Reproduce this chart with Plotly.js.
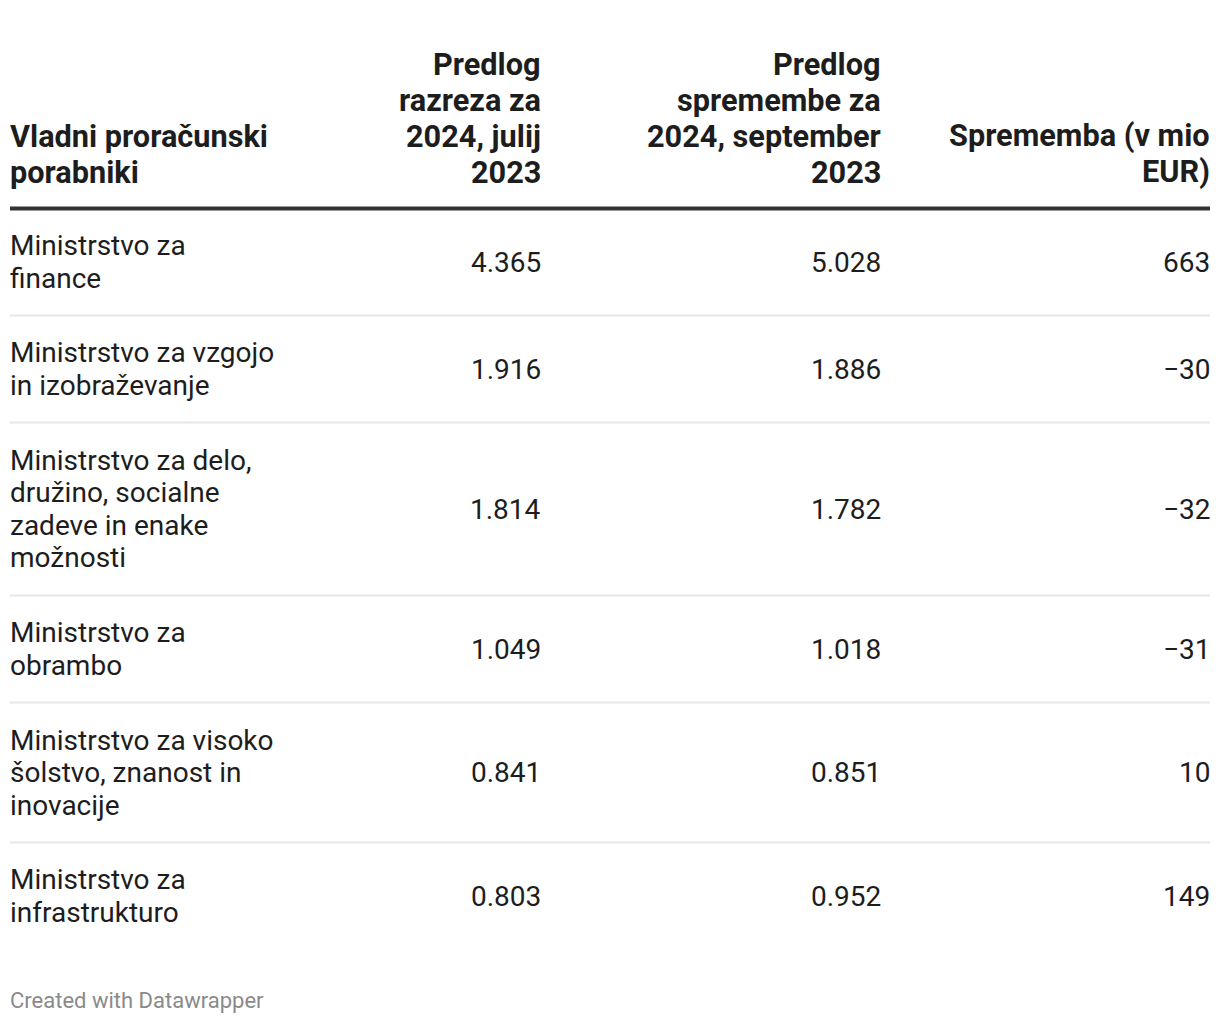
<!DOCTYPE html>
<html>
<head>
<meta charset="utf-8">
<script src="https://cdn.plot.ly/plotly-3.0.1.min.js"></script>
<style>html,body{margin:0;padding:0;background:#fff;}#chart{width:1220px;height:1024px;}</style>
</head>
<body>
<div id="chart"></div>
<script>
// ---- data ----
const headers = [
  "Vladni proračunski<br>porabniki",
  "Predlog<br>razreza za<br>2024, julij<br>2023",
  "Predlog<br>spremembe za<br>2024, september<br>2023",
  "Sprememba (v mio<br>EUR)"
];
const ministries = [
  "Ministrstvo za<br>finance",
  "Ministrstvo za vzgojo<br>in izobraževanje",
  "Ministrstvo za delo,<br>družino, socialne<br>zadeve in enake<br>možnosti",
  "Ministrstvo za<br>obrambo",
  "Ministrstvo za visoko<br>šolstvo, znanost in<br>inovacije",
  "Ministrstvo za<br>infrastrukturo"
];
const julij2023 = [4.365, 1.916, 1.814, 1.049, 0.841, 0.803];
const september2023 = [5.028, 1.886, 1.782, 1.018, 0.851, 0.952];
const sprememba = [663, -30, -32, -31, 10, 149];
const footer = "Created with Datawrapper";

// ---- layout constants (style) ----
const W = 1220, H = 1024;
const lineLeft = 10, lineRight = 1210;
const textLeft = 9;
const colRight = [542, 882, 1211];
const headerLastLineY = 172;
const headerLineSpacing = 36;
const headerLineY = 208.5;
const bodyLineSpacing = 32.5;
const rowLineH = 33, rowPad = 41;
const bodyFont = {family: "Roboto", size: 28, color: "#1d1d1d"};
const headFont = {family: "Roboto", size: 30.7, color: "#1d1d1d", weight: 700};

const fmt3 = v => v.toFixed(3);
const fmtInt = v => (v < 0 ? "\u2212" + Math.abs(v) : String(v));

const annotations = [];
const shapes = [];

function addLines(text, x, cy, spacing, font, isLeft, bold) {
  const lines = text.split("<br>");
  const n = lines.length;
  lines.forEach((ln, k) => {
    annotations.push({
      xref: "x", yref: "y",
      x: x, y: cy + (k - (n - 1) / 2) * spacing,
      xanchor: isLeft ? "left" : "right",
      yanchor: "middle",
      align: isLeft ? "left" : "right",
      text: bold ? "<b>" + ln + "</b>" : ln,
      showarrow: false, font: font, borderpad: 0
    });
  });
}

// header (bottom-aligned)
headers.forEach((h, i) => {
  const n = h.split("<br>").length;
  const cy = headerLastLineY - (n - 1) / 2 * headerLineSpacing;
  addLines(h, i === 0 ? textLeft : colRight[i - 1], cy, headerLineSpacing, headFont, i === 0, true);
});
shapes.push({type: "line", xref: "x", yref: "y", x0: lineLeft, x1: lineRight, y0: headerLineY, y1: headerLineY,
  line: {color: "#333333", width: 4}});

// rows
let y = headerLineY;
ministries.forEach((m, r) => {
  const n = m.split("<br>").length;
  const h = n * rowLineH + rowPad;
  const cy = y + h / 2;
  const cells = [m, fmt3(julij2023[r]), fmt3(september2023[r]), fmtInt(sprememba[r])];
  cells.forEach((c, i) => {
    addLines(c, i === 0 ? textLeft : colRight[i - 1], cy, bodyLineSpacing, bodyFont, i === 0, false);
  });
  y += h;
  if (r < ministries.length - 1) {
    shapes.push({type: "line", xref: "x", yref: "y", x0: lineLeft, x1: lineRight, y0: y, y1: y,
      line: {color: "#e8e8e8", width: 2}});
  }
});

// footer
annotations.push({
  xref: "x", yref: "y", x: textLeft, y: 1000, xanchor: "left", yanchor: "middle",
  text: footer, showarrow: false, borderpad: 0,
  font: {family: "Roboto", size: 22, color: "#8a8a8a"}
});

const layout = {
  width: W, height: H,
  margin: {l: 0, r: 0, t: 0, b: 0},
  paper_bgcolor: "#ffffff", plot_bgcolor: "#ffffff",
  xaxis: {range: [0, W], visible: false, fixedrange: true},
  yaxis: {range: [H, 0], visible: false, fixedrange: true},
  showlegend: false,
  annotations: annotations,
  shapes: shapes
};

Plotly.newPlot("chart", [{type: "scatter", x: [], y: [], mode: "markers", hoverinfo: "skip"}], layout, {displayModeBar: false, staticPlot: true});
</script>
</body>
</html>
